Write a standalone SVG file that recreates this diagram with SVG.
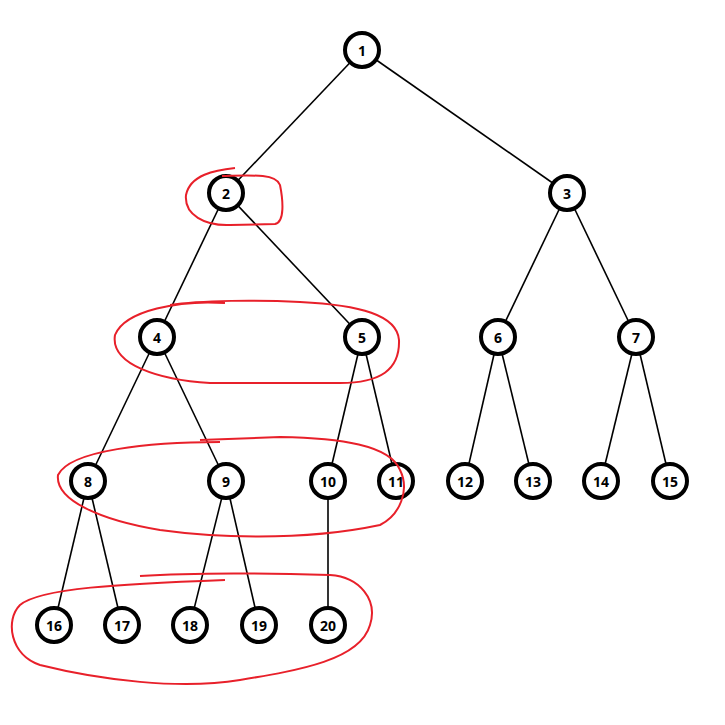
<svg xmlns="http://www.w3.org/2000/svg" width="725" height="725" viewBox="0 0 725 725">
<style>
.n circle{fill:#fff;stroke:#000;stroke-width:4}
.n text{font-family:"Noto Sans","Liberation Sans",sans-serif;font-weight:bold;font-size:14px;text-anchor:middle;dominant-baseline:central}
#edges line{stroke:#000;stroke-width:1.6}
.red{fill:none;stroke:#e8202a;stroke-width:2}
</style>
<rect width="725" height="725" fill="#fff"/>
<g id="edges">
<line x1="362" y1="50" x2="226" y2="193"/><line x1="362" y1="50" x2="567" y2="193"/>
<line x1="226" y1="193" x2="157" y2="337"/><line x1="226" y1="193" x2="362" y2="337"/>
<line x1="567" y1="193" x2="498" y2="337"/><line x1="567" y1="193" x2="636" y2="337"/>
<line x1="157" y1="337" x2="88" y2="481"/><line x1="157" y1="337" x2="226" y2="481"/>
<line x1="362" y1="337" x2="328" y2="481"/><line x1="362" y1="337" x2="396" y2="481"/>
<line x1="498" y1="337" x2="465" y2="481"/><line x1="498" y1="337" x2="533" y2="481"/>
<line x1="636" y1="337" x2="601" y2="481"/><line x1="636" y1="337" x2="670" y2="481"/>
<line x1="88" y1="481" x2="54" y2="625"/><line x1="88" y1="481" x2="122" y2="625"/>
<line x1="226" y1="481" x2="190" y2="625"/><line x1="226" y1="481" x2="259" y2="625"/>
<line x1="328" y1="481" x2="328" y2="625"/>
</g>
<g id="n1" class="n"><circle cx="362" cy="50" r="17"/><text x="362" y="50">1</text></g>
<g id="n2" class="n"><circle cx="226" cy="193" r="17"/><text x="226" y="193">2</text></g>
<g id="n3" class="n"><circle cx="567" cy="193" r="17"/><text x="567" y="193">3</text></g>
<g id="n4" class="n"><circle cx="157" cy="337" r="17"/><text x="157" y="337">4</text></g>
<g id="n5" class="n"><circle cx="362" cy="337" r="17"/><text x="362" y="337">5</text></g>
<g id="n6" class="n"><circle cx="498" cy="337" r="17"/><text x="498" y="337">6</text></g>
<g id="n7" class="n"><circle cx="636" cy="337" r="17"/><text x="636" y="337">7</text></g>
<g id="n8" class="n"><circle cx="88" cy="481" r="17"/><text x="88" y="481">8</text></g>
<g id="n9" class="n"><circle cx="226" cy="481" r="17"/><text x="226" y="481">9</text></g>
<g id="n10" class="n"><circle cx="328" cy="481" r="17"/><text x="328" y="481">10</text></g>
<g id="n11" class="n"><circle cx="396" cy="481" r="17"/><text x="396" y="481">11</text></g>
<g id="n12" class="n"><circle cx="465" cy="481" r="17"/><text x="465" y="481">12</text></g>
<g id="n13" class="n"><circle cx="533" cy="481" r="17"/><text x="533" y="481">13</text></g>
<g id="n14" class="n"><circle cx="601" cy="481" r="17"/><text x="601" y="481">14</text></g>
<g id="n15" class="n"><circle cx="670" cy="481" r="17"/><text x="670" y="481">15</text></g>
<g id="n16" class="n"><circle cx="54" cy="625" r="17"/><text x="54" y="625">16</text></g>
<g id="n17" class="n"><circle cx="122" cy="625" r="17"/><text x="122" y="625">17</text></g>
<g id="n18" class="n"><circle cx="190" cy="625" r="17"/><text x="190" y="625">18</text></g>
<g id="n19" class="n"><circle cx="259" cy="625" r="17"/><text x="259" y="625">19</text></g>
<g id="n20" class="n"><circle cx="328" cy="625" r="17"/><text x="328" y="625">20</text></g>
<g id="marks">
<path class="red" d="M235,168 C215,170 190,175 186,195 C184,215 205,226 230,225 L275,224 C285,222 283,200 280,185 C276,174 255,175 222,176"/>
<path class="red" d="M225,303 C180,300 125,310 115,335 C110,365 160,380 210,383 L340,383 C380,383 400,370 399,340 C397,315 360,305 300,302 C260,300 200,300 170,305"/>
<path class="red" d="M220,442 C150,442 70,450 58,475 C55,500 100,520 160,530 C210,537 300,542 380,525 C400,515 410,490 400,470 C390,445 340,438 280,437 L200,440"/>
<path class="red" d="M140,576 C200,572 260,573 330,575 C360,577 378,600 370,625 C360,660 300,670 240,680 C180,690 100,680 40,665 C10,655 5,620 20,605 C40,588 120,584 225,580"/>
</g>
</svg>
